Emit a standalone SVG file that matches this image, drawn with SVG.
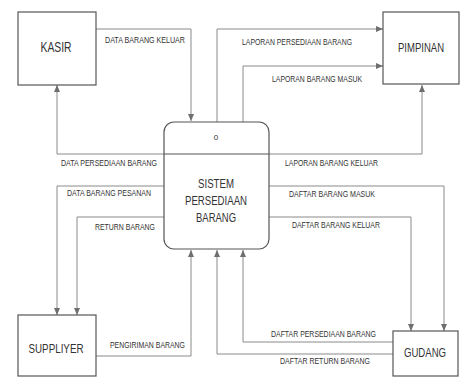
<svg xmlns="http://www.w3.org/2000/svg" width="460" height="378" viewBox="0 0 460 378">
<defs>
<marker id="ah" markerWidth="7" markerHeight="6" refX="7" refY="3" orient="auto" markerUnits="userSpaceOnUse">
<path d="M0,0 L7,3 L0,6 Z" fill="#6e6e6e"/>
</marker>
<style>
.box{fill:#fff;stroke:#555;stroke-width:1.2}
.c{fill:none;stroke:#8a8a8a;stroke-width:1;marker-end:url(#ah)}
.lbl{font-family:"Liberation Sans",Arial,sans-serif;font-size:8.5px;fill:#333}
.nl{font-family:"Liberation Sans",Arial,sans-serif;font-size:13px;fill:#333;text-anchor:middle}
</style>
</defs>
<rect width="460" height="378" fill="#fff"/>
<g id="connectors">
<path class="c" d="M96,29 H191 V121"/>
<path class="c" d="M164,154 H57 V85"/>
<path class="c" d="M217,122 V29 H383"/>
<path class="c" d="M243,122 V66 H383"/>
<path class="c" d="M269,154 H422 V85"/>
<path class="c" d="M164,186 H57 V315"/>
<path class="c" d="M164,217 H77 V315"/>
<path class="c" d="M96,356 H191 V250"/>
<path class="c" d="M269,186 H444 V331"/>
<path class="c" d="M269,217 H411 V331"/>
<path class="c" d="M393,342 H243 V250"/>
<path class="c" d="M393,354 H217 V250"/>
<text class="lbl" x="105" y="43" textLength="80" lengthAdjust="spacingAndGlyphs">DATA BARANG KELUAR</text>
<text class="lbl" x="242" y="45" textLength="110" lengthAdjust="spacingAndGlyphs">LAPORAN PERSEDIAAN BARANG</text>
<text class="lbl" x="272" y="82" textLength="90" lengthAdjust="spacingAndGlyphs">LAPORAN BARANG MASUK</text>
<text class="lbl" x="61" y="166" textLength="96" lengthAdjust="spacingAndGlyphs">DATA PERSEDIAAN BARANG</text>
<text class="lbl" x="67" y="196" textLength="84" lengthAdjust="spacingAndGlyphs">DATA BARANG PESANAN</text>
<text class="lbl" x="95" y="230" textLength="60" lengthAdjust="spacingAndGlyphs">RETURN BARANG</text>
<text class="lbl" x="285" y="166" textLength="93" lengthAdjust="spacingAndGlyphs">LAPORAN BARANG KELUAR</text>
<text class="lbl" x="289" y="197" textLength="86" lengthAdjust="spacingAndGlyphs">DAFTAR BARANG MASUK</text>
<text class="lbl" x="292" y="228" textLength="88" lengthAdjust="spacingAndGlyphs">DAFTAR BARANG KELUAR</text>
<text class="lbl" x="110" y="348" textLength="75" lengthAdjust="spacingAndGlyphs">PENGIRIMAN BARANG</text>
<text class="lbl" x="271" y="337" textLength="105" lengthAdjust="spacingAndGlyphs">DAFTAR PERSEDIAAN BARANG</text>
<text class="lbl" x="280" y="364" textLength="90" lengthAdjust="spacingAndGlyphs">DAFTAR RETURN BARANG</text>
</g>
<g id="kasir">
<rect class="box" x="18" y="12" width="78" height="73"/>
<text class="nl" x="56" y="52" style="font-size:14px" textLength="31" lengthAdjust="spacingAndGlyphs">KASIR</text>
</g>
<g id="pimpinan">
<rect class="box" x="383" y="12" width="76" height="72"/>
<text class="nl" x="421" y="52" textLength="46" lengthAdjust="spacingAndGlyphs">PIMPINAN</text>
</g>
<g id="suppliyer">
<rect class="box" x="18" y="315" width="78" height="61"/>
<text class="nl" x="56" y="353" textLength="55" lengthAdjust="spacingAndGlyphs">SUPPLIYER</text>
</g>
<g id="gudang">
<rect class="box" x="393" y="331" width="65" height="45"/>
<text class="nl" x="425" y="357" textLength="42" lengthAdjust="spacingAndGlyphs">GUDANG</text>
</g>
<g id="sistem">
<rect class="box" x="164" y="122" width="105" height="127" rx="10" ry="10"/>
<line x1="164" y1="154" x2="269" y2="154" stroke="#555" stroke-width="1"/>
<text class="nl" x="216" y="140" style="font-size:8px">0</text>
<text class="nl" x="216" y="188" textLength="36" lengthAdjust="spacingAndGlyphs">SISTEM</text>
<text class="nl" x="216" y="205" textLength="62" lengthAdjust="spacingAndGlyphs">PERSEDIAAN</text>
<text class="nl" x="216" y="222" textLength="40" lengthAdjust="spacingAndGlyphs">BARANG</text>
</g>
</svg>
